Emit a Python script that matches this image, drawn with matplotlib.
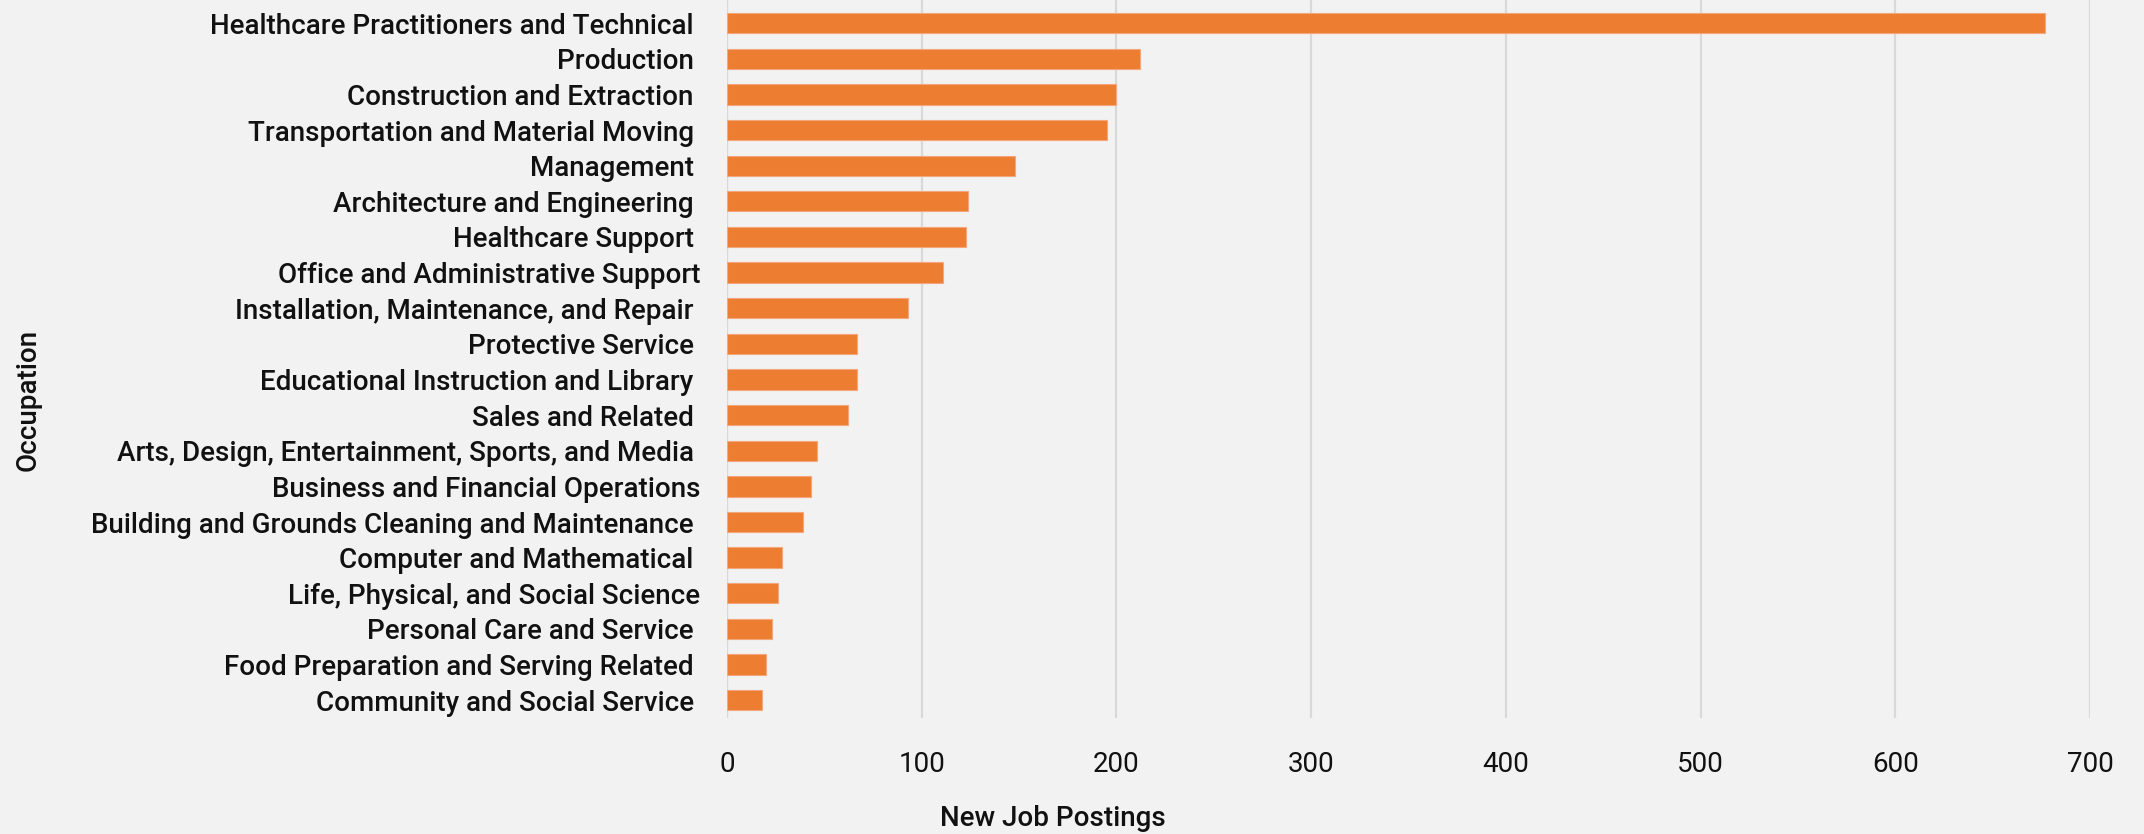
import matplotlib
matplotlib.use("Agg")
import matplotlib.pyplot as plt

categories = [
    "Healthcare Practitioners and Technical ",
    "Production ",
    "Construction and Extraction ",
    "Transportation and Material Moving ",
    "Management ",
    "Architecture and Engineering ",
    "Healthcare Support ",
    "Office and Administrative Support",
    "Installation, Maintenance, and Repair ",
    "Protective Service ",
    "Educational Instruction and Library ",
    "Sales and Related ",
    "Arts, Design, Entertainment, Sports, and Media ",
    "Business and Financial Operations",
    "Building and Grounds Cleaning and Maintenance ",
    "Computer and Mathematical ",
    "Life, Physical, and Social Science",
    "Personal Care and Service ",
    "Food Preparation and Serving Related ",
    "Community and Social Service ",
]
postings = [677, 212, 200, 195, 148, 124, 123, 111, 93, 67, 67, 62, 46, 43, 39, 28, 26, 23, 20, 18]
xticks = [0, 100, 200, 300, 400, 500, 600, 700]

BG = "#F1F2F1"
BAR = "#ED7D31"
GRID = "#D9D9D9"
FONT = "Roboto"

fig = plt.figure(figsize=(21.44, 8.34), dpi=100, facecolor=BG)
ax = fig.add_axes([727/2144, 1 - 718/834, (2090-727)/2144, 718/834])
ax.set_facecolor(BG)

ypos = list(range(len(categories)))
ax.barh(ypos, postings, height=0.57, color=BAR, edgecolor="#F4A77A", linewidth=0.8, zorder=3)

ax.set_xlim(0, 700)
ax.set_ylim(19.5, -0.65)
ax.set_xticks(xticks)
ax.set_xticklabels([str(t) for t in xticks], fontfamily=FONT, fontsize=20, color="#111111")
ax.set_yticks(ypos)
ax.set_yticklabels(categories, fontfamily=FONT, fontweight="medium", fontsize=20, color="#111111")
ax.tick_params(axis="x", length=0, pad=24)
ax.tick_params(axis="y", length=0, pad=19)
ax.grid(axis="x", color=GRID, linewidth=1.6, zorder=0)
for s in ax.spines.values():
    s.set_visible(False)
ax.axvline(0, color=GRID, linewidth=1.6, zorder=1)

fig.text(1053/2144, 1 - 818/834, "New Job Postings", ha="center", va="center",
         fontfamily=FONT, fontweight="medium", fontsize=20, color="#111111")
fig.text(28/2144, 1 - 400/834, "Occupation", ha="center", va="center", rotation=90,
         fontfamily=FONT, fontweight="medium", fontsize=20, color="#111111")

fig.savefig("out.png", dpi=100, facecolor=BG)
